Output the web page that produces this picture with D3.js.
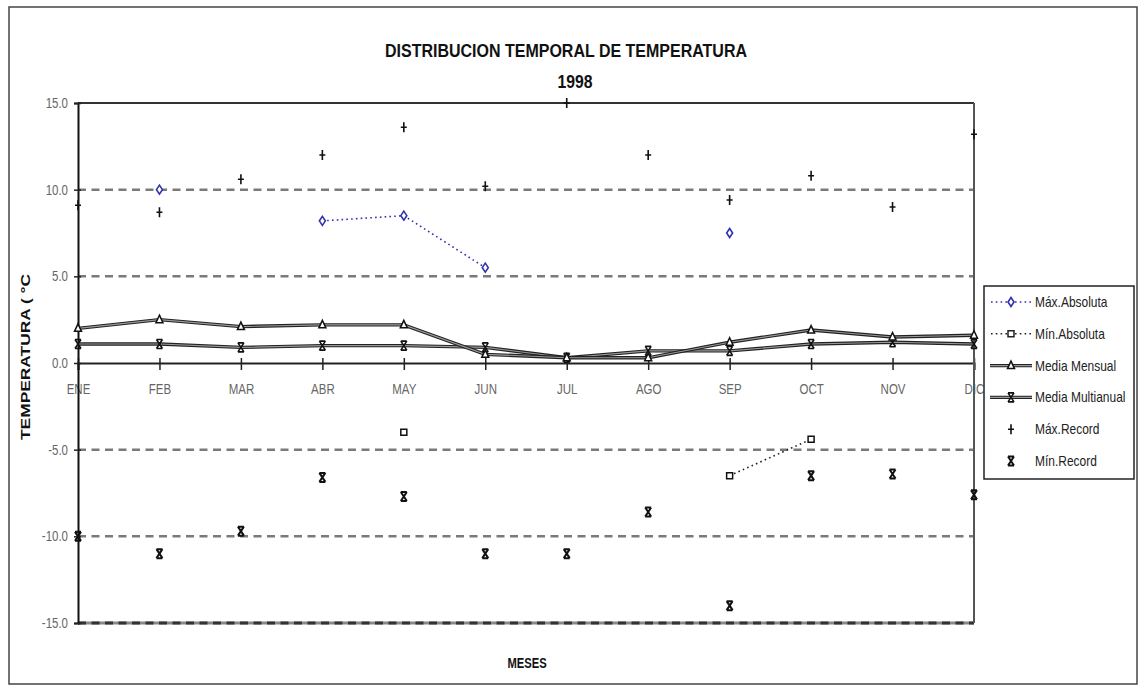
<!DOCTYPE html>
<html>
<head>
<meta charset="utf-8">
<script src="https://cdn.jsdelivr.net/npm/d3@7"></script>
<style>
  html, body { margin: 0; padding: 0; background: #fff; }
  svg { display: block; }
</style>
</head>
<body>
<svg id="chart" width="1144" height="686"></svg>
<script>
const months = ["ENE","FEB","MAR","ABR","MAY","JUN","JUL","AGO","SEP","OCT","NOV","DIC"];
const maxAbsoluta = [null,10.0,null,8.2,8.5,5.5,null,null,7.5,null,null,null];
const minAbsoluta = [null,null,null,null,-4.0,null,null,null,-6.5,-4.4,null,null];
const mediaMensual = [2.0,2.5,2.1,2.2,2.2,0.5,0.3,0.3,1.2,1.9,1.5,1.6];
const mediaMultianual = [1.1,1.1,0.9,1.0,1.0,0.9,0.3,0.7,0.7,1.1,1.2,1.1];
const maxRecord = [9.1,8.7,10.6,12.0,13.6,10.2,15.0,12.0,9.4,10.8,9.0,13.2];
const minRecord = [-10.0,-11.0,-9.7,-6.6,-7.7,-11.0,-11.0,-8.6,-14.0,-6.5,-6.4,-7.6];
const yTicks = [-15,-10,-5,0,5,10,15];
const gridTicks = [-10,-5,5,10];
const legendLabels = ["Máx.Absoluta","Mín.Absoluta","Media Mensual","Media Multianual","Máx.Record","Mín.Record"];

const svg = d3.select("#chart");
const FONT = '"Liberation Sans", Arial, sans-serif';
const NARROW = 0.82;

// condense a text element horizontally (emulates a narrow face)
function narrow(sel, factor) {
  sel.each(function () {
    const len = this.getComputedTextLength();
    d3.select(this).attr("textLength", len * (factor || NARROW)).attr("lengthAdjust", "spacingAndGlyphs");
  });
}

const x = d3.scalePoint().domain(months).range([78, 974]);
const y = d3.scaleLinear().domain([-15, 15]).range([623, 103]);

// outer border
svg.append("rect").attr("x", 9).attr("y", 7).attr("width", 1128).attr("height", 677)
  .attr("fill", "#fff").attr("stroke", "#444").attr("stroke-width", 1.5);

// title
svg.append("text").attr("x", 566).attr("y", 57).attr("text-anchor", "middle")
  .attr("font-family", FONT).attr("font-weight", "bold").attr("font-size", 18).attr("fill", "#111")
  .attr("textLength", 362).attr("lengthAdjust", "spacingAndGlyphs")
  .text("DISTRIBUCION TEMPORAL DE TEMPERATURA");
svg.append("text").attr("x", 575).attr("y", 88).attr("text-anchor", "middle")
  .attr("font-family", FONT).attr("font-weight", "bold").attr("font-size", 18).attr("fill", "#111")
  .attr("textLength", 35).attr("lengthAdjust", "spacingAndGlyphs")
  .text("1998");

// gridlines (dashed)
svg.append("g").selectAll("line").data(gridTicks).join("line")
  .attr("x1", x.range()[0]).attr("x2", x.range()[1])
  .attr("y1", d => y(d)).attr("y2", d => y(d))
  .attr("stroke", "#7a7a7a").attr("stroke-width", 2.5).attr("stroke-dasharray", "8,5.5");

// top line (15) and bottom line (-15)
svg.append("line").attr("x1", x.range()[0]).attr("x2", x.range()[1])
  .attr("y1", y(15)).attr("y2", y(15)).attr("stroke", "#333").attr("stroke-width", 2);
svg.append("line").attr("x1", x.range()[0]).attr("x2", x.range()[1])
  .attr("y1", y(-15)).attr("y2", y(-15)).attr("stroke", "#888").attr("stroke-width", 3);
svg.append("line").attr("x1", x.range()[0]).attr("x2", x.range()[1])
  .attr("y1", y(-15)).attr("y2", y(-15)).attr("stroke", "#333").attr("stroke-width", 3)
  .attr("stroke-dasharray", "8,5.5");

// x axis at zero
const xAxis = svg.append("g").attr("transform", `translate(0,${y(0)})`)
  .call(d3.axisBottom(x).tickSize(7).tickPadding(14));
xAxis.select(".domain").attr("stroke", "#222").attr("stroke-width", 2);
xAxis.selectAll(".tick line").attr("stroke", "#222").attr("stroke-width", 1.5).attr("y1", -5);
xAxis.selectAll(".tick text").attr("font-family", FONT).attr("font-size", 14).attr("fill", "#666").call(narrow);

// right frame (drawn over the DIC label like in the original)
svg.append("line").attr("x1", x.range()[1]).attr("x2", x.range()[1])
  .attr("y1", y(15)).attr("y2", y(-15)).attr("stroke", "#555").attr("stroke-width", 2);

// y axis
const yAxis = svg.append("g").attr("transform", `translate(${x.range()[0]},0)`)
  .call(d3.axisLeft(y).tickValues(yTicks).tickFormat(d => d.toFixed(1)).tickSize(4).tickPadding(6));
yAxis.select(".domain").attr("stroke", "#111").attr("stroke-width", 2);
yAxis.selectAll(".tick line").attr("stroke", "#222").attr("stroke-width", 1.5).attr("x2", 3).attr("x1", -4);
yAxis.selectAll(".tick text").attr("font-family", FONT).attr("font-size", 14).attr("fill", "#666").call(narrow);

// axis titles
svg.append("text").attr("transform", "translate(30,357) rotate(-90)").attr("text-anchor", "middle")
  .attr("font-family", FONT).attr("font-weight", "bold").attr("font-size", 13).attr("fill", "#111")
  .attr("textLength", 166).attr("lengthAdjust", "spacingAndGlyphs")
  .text("TEMPERATURA (  °C");
svg.append("text").attr("x", 527).attr("y", 668).attr("text-anchor", "middle")
  .attr("font-family", FONT).attr("font-weight", "bold").attr("font-size", 14).attr("fill", "#111")
  .text("MESES").call(narrow, 0.8);

// marker shapes
const SYM = {
  diamond: "M0,-4.5L3,0L0,4.5L-3,0Z",
  square: "M-3,-3H3V3H-3Z",
  triangle: "M0,-4.5L3.5,3H-3.5Z",
  hour: "M-3,-4.5L3,4.5M3,-4.5L-3,4.5M-3,-4.5H3M-3,4.5H3",
  plus: "M0,-5V5M-3,0H3"
};

const lineGen = d3.line().defined(d => d != null).x((d, i) => x(months[i])).y(d => y(d));

// Media lines (double effect)
function mediaLine(data) {
  svg.append("path").datum(data).attr("d", lineGen).attr("fill", "none")
    .attr("stroke", "#222").attr("stroke-width", 3.4);
  svg.append("path").datum(data).attr("d", lineGen).attr("fill", "none")
    .attr("stroke", "#999").attr("stroke-width", 1.1);
}
mediaLine(mediaMultianual);
mediaLine(mediaMensual);

// dotted lines
svg.append("path").datum(maxAbsoluta).attr("d", lineGen).attr("fill", "none")
  .attr("stroke", "#3030b0").attr("stroke-width", 1.6).attr("stroke-dasharray", "1.6,3.2");
svg.append("path").datum(minAbsoluta).attr("d", lineGen).attr("fill", "none")
  .attr("stroke", "#222").attr("stroke-width", 1.6).attr("stroke-dasharray", "1.6,3.2");

function markers(data, path, stroke, sw, fill) {
  const pts = data.map((v, i) => ({ v, m: months[i] })).filter(d => d.v != null);
  svg.append("g").selectAll("path").data(pts).join("path")
    .attr("transform", d => `translate(${x(d.m)},${y(d.v)})`)
    .attr("d", path).attr("fill", fill || "none").attr("stroke", stroke).attr("stroke-width", sw);
}
markers(mediaMultianual, SYM.hour, "#111", 1.6);
markers(mediaMensual, SYM.triangle, "#111", 1.5, "#fff");
markers(maxAbsoluta, SYM.diamond, "#3030b0", 1.6, "#fff");
markers(minAbsoluta, SYM.square, "#111", 1.5, "#fff");
markers(maxRecord, SYM.plus, "#111", 1.6);
markers(minRecord, SYM.hour, "#111", 2);

// legend
const lg = svg.append("g");
lg.append("rect").attr("x", 984).attr("y", 286).attr("width", 150).attr("height", 193)
  .attr("fill", "#fff").attr("stroke", "#222").attr("stroke-width", 1.5);
const legendStyles = [
  { type: "dot", color: "#3030b0", sym: SYM.diamond, fill: "#fff", sw: 1.6 },
  { type: "dot", color: "#222", sym: SYM.square, fill: "#fff", sw: 1.5 },
  { type: "media", color: "#111", sym: SYM.triangle, fill: "#fff", sw: 1.5 },
  { type: "media", color: "#111", sym: SYM.hour, fill: "none", sw: 1.6 },
  { type: "none", color: "#111", sym: SYM.plus, fill: "none", sw: 1.6 },
  { type: "none", color: "#111", sym: SYM.hour, fill: "none", sw: 2 }
];
const ly = d3.scaleLinear().domain([0, 5]).range([302, 461]);
legendLabels.forEach((lab, i) => {
  const st = legendStyles[i];
  const yy = ly(i);
  if (st.type === "dot") {
    lg.append("line").attr("x1", 991).attr("x2", 1032).attr("y1", yy).attr("y2", yy)
      .attr("stroke", st.color).attr("stroke-width", 1.6).attr("stroke-dasharray", "1.6,3.2");
  } else if (st.type === "media") {
    lg.append("line").attr("x1", 990).attr("x2", 1032).attr("y1", yy).attr("y2", yy)
      .attr("stroke", "#222").attr("stroke-width", 3.4);
    lg.append("line").attr("x1", 990).attr("x2", 1032).attr("y1", yy).attr("y2", yy)
      .attr("stroke", "#999").attr("stroke-width", 1.1);
  }
  lg.append("path").attr("transform", `translate(1011,${yy})`).attr("d", st.sym)
    .attr("fill", st.fill).attr("stroke", st.color).attr("stroke-width", st.sw);
  lg.append("text").attr("transform", `translate(1035,${yy + 5}) scale(${NARROW},1)`)
    .attr("font-family", FONT).attr("font-size", 14.6).attr("fill", "#222").text(lab);
});
</script>
</body>
</html>
